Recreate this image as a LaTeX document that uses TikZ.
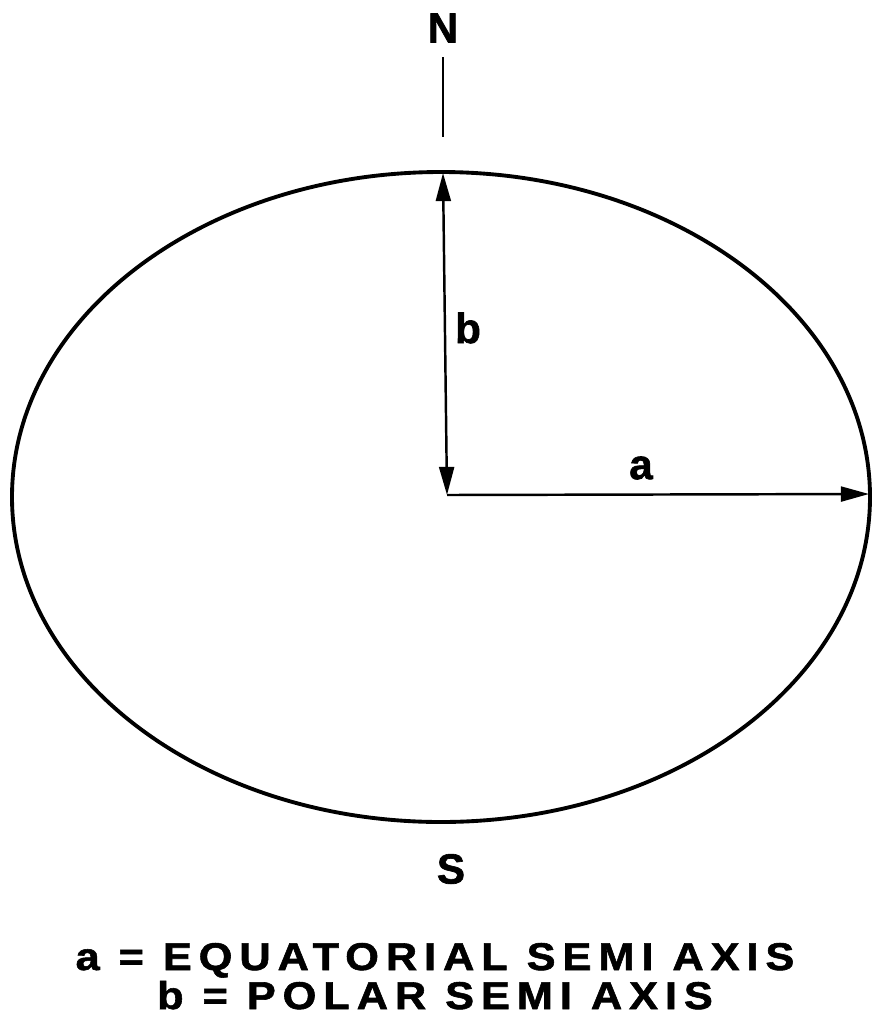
\documentclass[tikz,border=0pt]{standalone}
\usepackage{fontspec}
\setmainfont{Liberation Sans}
\usetikzlibrary{arrows.meta}
\newfontfamily\keyfont[FakeStretch=1.12, LetterSpace=18, FakeBold=1.5]{Liberation Sans Bold}
\newfontfamily\lblfont[FakeBold=1.5]{Liberation Sans Bold}
\tikzset{lbl/.style={font=\lblfont\fontsize{24}{28}\selectfont, inner sep=0pt},
  keytext/.style={font=\keyfont\fontsize{22}{26}\selectfont, inner sep=0pt, anchor=base},
  axis/.style={line width=1.4pt, {Triangle[length=16pt,width=8.5pt]}-{Triangle[length=16pt,width=8.5pt]}}}
\begin{document}
\begin{tikzpicture}[x=0.02cm, y=-0.02cm]
            \useasboundingbox (0,0) rectangle (872,1018);
            \draw[line width=2.2pt] (441,497) ellipse [x radius=429, y radius=325];
            \coordinate (O) at (447,495);
            \coordinate (top) at (443,173);
            \coordinate (right) at (869,494);
            \draw[axis] (top) -- (O);
            \draw[axis, {Triangle[length=16pt,width=8.5pt]}-] (right) -- (O);
            \draw[line width=1.5pt] (443,57) -- (443,137);
            \node[lbl] (N) at (443,28) {N};
            \node[lbl] (S) at (451,869) {S};
            \node[lbl] (b) at (468,328) {b};
            \node[lbl] (a) at (641,468) {a};
            \node[keytext] (key1) at (435,970) {a = EQUATORIAL SEMI AXIS};
            \node[keytext] (key2) at (435,1009) {b = POLAR SEMI AXIS};
        \end{tikzpicture}
\end{document}
